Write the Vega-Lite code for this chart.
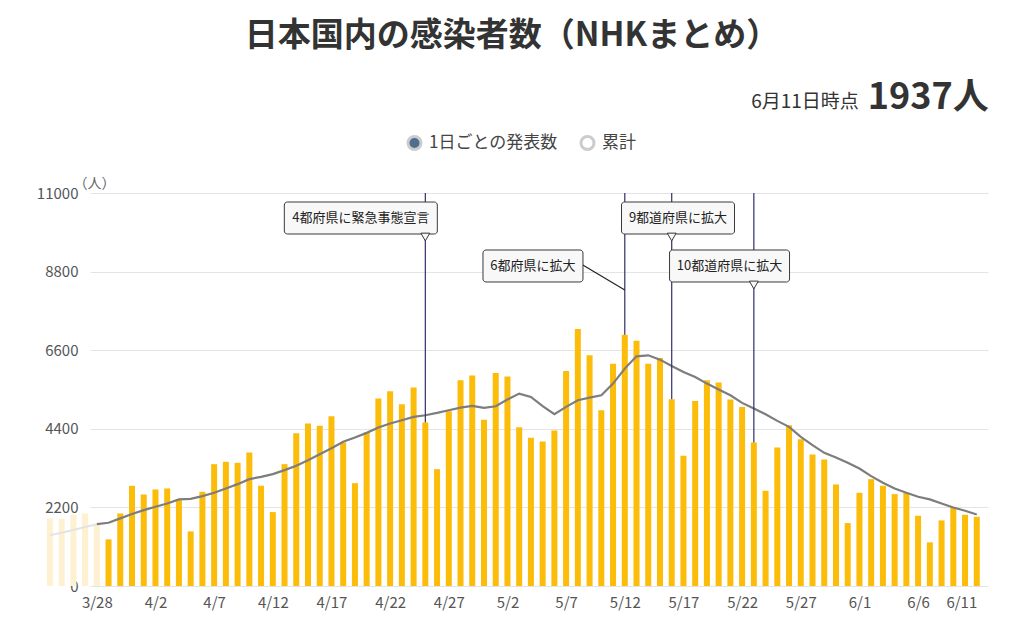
{
"$schema": "https://vega.github.io/schema/vega-lite/v6.json",
"width": 898,
"height": 393,
"autosize": {"type": "none"},
"padding": {"left": 90, "top": 193, "right": 36, "bottom": 40},
"background": "#ffffff",
"config": {"font": "Noto Sans CJK JP", "view": {"stroke": null}},
"title": {"text": "日本国内の感染者数（NHKまとめ）", "anchor": "middle", "dx": -27, "offset": 27, "fontSize": 33, "fontWeight": "bold", "color": "#333333", "font": "Noto Sans CJK JP"},
"datasets": {
"daily": [
{"date": "2020-03-24", "cases": 1890, "avg": 1420},
{"date": "2020-03-25", "cases": 1880, "avg": 1490},
{"date": "2020-03-26", "cases": 2000, "avg": 1570},
{"date": "2020-03-27", "cases": 2030, "avg": 1650},
{"date": "2020-03-28", "cases": 1710, "avg": 1730},
{"date": "2020-03-29", "cases": 1305, "avg": 1770},
{"date": "2020-03-30", "cases": 2031, "avg": 1892},
{"date": "2020-03-31", "cases": 2805, "avg": 2013},
{"date": "2020-04-01", "cases": 2562, "avg": 2124},
{"date": "2020-04-02", "cases": 2702, "avg": 2218},
{"date": "2020-04-03", "cases": 2730, "avg": 2311},
{"date": "2020-04-04", "cases": 2404, "avg": 2423},
{"date": "2020-04-05", "cases": 1528, "avg": 2441},
{"date": "2020-04-06", "cases": 2637, "avg": 2516},
{"date": "2020-04-07", "cases": 3410, "avg": 2609},
{"date": "2020-04-08", "cases": 3476, "avg": 2730},
{"date": "2020-04-09", "cases": 3448, "avg": 2851},
{"date": "2020-04-10", "cases": 3737, "avg": 2991},
{"date": "2020-04-11", "cases": 2805, "avg": 3056},
{"date": "2020-04-12", "cases": 2069, "avg": 3131},
{"date": "2020-04-13", "cases": 3410, "avg": 3243},
{"date": "2020-04-14", "cases": 4277, "avg": 3364},
{"date": "2020-04-15", "cases": 4547, "avg": 3522},
{"date": "2020-04-16", "cases": 4482, "avg": 3690},
{"date": "2020-04-17", "cases": 4752, "avg": 3858},
{"date": "2020-04-18", "cases": 4016, "avg": 4035},
{"date": "2020-04-19", "cases": 2879, "avg": 4156},
{"date": "2020-04-20", "cases": 4296, "avg": 4286},
{"date": "2020-04-21", "cases": 5246, "avg": 4435},
{"date": "2020-04-22", "cases": 5451, "avg": 4547},
{"date": "2020-04-23", "cases": 5088, "avg": 4640},
{"date": "2020-04-24", "cases": 5554, "avg": 4734},
{"date": "2020-04-25", "cases": 4575, "avg": 4780},
{"date": "2020-04-26", "cases": 3271, "avg": 4845},
{"date": "2020-04-27", "cases": 4892, "avg": 4920},
{"date": "2020-04-28", "cases": 5759, "avg": 4994},
{"date": "2020-04-29", "cases": 5889, "avg": 5041},
{"date": "2020-04-30", "cases": 4650, "avg": 4985},
{"date": "2020-05-01", "cases": 5964, "avg": 5032},
{"date": "2020-05-02", "cases": 5861, "avg": 5218},
{"date": "2020-05-03", "cases": 4445, "avg": 5386},
{"date": "2020-05-04", "cases": 4147, "avg": 5293},
{"date": "2020-05-05", "cases": 4044, "avg": 5032},
{"date": "2020-05-06", "cases": 4352, "avg": 4808},
{"date": "2020-05-07", "cases": 6019, "avg": 5013},
{"date": "2020-05-08", "cases": 7193, "avg": 5200},
{"date": "2020-05-09", "cases": 6457, "avg": 5274},
{"date": "2020-05-10", "cases": 4920, "avg": 5339},
{"date": "2020-05-11", "cases": 6224, "avg": 5665},
{"date": "2020-05-12", "cases": 7035, "avg": 6085},
{"date": "2020-05-13", "cases": 6867, "avg": 6429},
{"date": "2020-05-14", "cases": 6224, "avg": 6457},
{"date": "2020-05-15", "cases": 6383, "avg": 6336},
{"date": "2020-05-16", "cases": 5227, "avg": 6159},
{"date": "2020-05-17", "cases": 3643, "avg": 5992},
{"date": "2020-05-18", "cases": 5181, "avg": 5852},
{"date": "2020-05-19", "cases": 5759, "avg": 5665},
{"date": "2020-05-20", "cases": 5693, "avg": 5498},
{"date": "2020-05-21", "cases": 5218, "avg": 5339},
{"date": "2020-05-22", "cases": 5013, "avg": 5125},
{"date": "2020-05-23", "cases": 4016, "avg": 4966},
{"date": "2020-05-24", "cases": 2665, "avg": 4808},
{"date": "2020-05-25", "cases": 3876, "avg": 4622},
{"date": "2020-05-26", "cases": 4501, "avg": 4454},
{"date": "2020-05-27", "cases": 4109, "avg": 4174},
{"date": "2020-05-28", "cases": 3681, "avg": 3942},
{"date": "2020-05-29", "cases": 3541, "avg": 3727},
{"date": "2020-05-30", "cases": 2842, "avg": 3597},
{"date": "2020-05-31", "cases": 1761, "avg": 3448},
{"date": "2020-06-01", "cases": 2609, "avg": 3289},
{"date": "2020-06-02", "cases": 2991, "avg": 3075},
{"date": "2020-06-03", "cases": 2805, "avg": 2889},
{"date": "2020-06-04", "cases": 2572, "avg": 2730},
{"date": "2020-06-05", "cases": 2609, "avg": 2609},
{"date": "2020-06-06", "cases": 1966, "avg": 2497},
{"date": "2020-06-07", "cases": 1221, "avg": 2423},
{"date": "2020-06-08", "cases": 1836, "avg": 2311},
{"date": "2020-06-09", "cases": 2208, "avg": 2199},
{"date": "2020-06-10", "cases": 1994, "avg": 2106},
{"date": "2020-06-11", "cases": 1937, "avg": 2003}
],
"notes": [
{"date": "2020-04-25", "cases": 4575, "label": "4都府県に緊急事態宣言"},
{"date": "2020-05-12", "cases": 7035, "label": "6都府県に拡大"},
{"date": "2020-05-16", "cases": 5227, "label": "9都道府県に拡大"},
{"date": "2020-05-23", "cases": 4016, "label": "10都道府県に拡大"}
],
"summary": [
{"date": "2020-06-11", "asof": "6月11日時点", "total": "1937人"}
],
"legend": [
{"series": "1日ごとの発表数"},
{"series": "累計"}
]
},
"encoding": {
"x": {
"field": "date", "type": "temporal",
"scale": {"type": "utc", "domain": [
{"year": 2020, "month": 3, "date": 27, "hours": 20, "minutes": 18, "utc": true},
{"year": 2020, "month": 6, "date": 11, "hours": 12, "minutes": 45, "utc": true}]},
"axis": {
"title": null,
"values": [
{"year": 2020, "month": 3, "date": 28, "utc": true},
{"year": 2020, "month": 4, "date": 2, "utc": true},
{"year": 2020, "month": 4, "date": 7, "utc": true},
{"year": 2020, "month": 4, "date": 12, "utc": true},
{"year": 2020, "month": 4, "date": 17, "utc": true},
{"year": 2020, "month": 4, "date": 22, "utc": true},
{"year": 2020, "month": 4, "date": 27, "utc": true},
{"year": 2020, "month": 5, "date": 2, "utc": true},
{"year": 2020, "month": 5, "date": 7, "utc": true},
{"year": 2020, "month": 5, "date": 12, "utc": true},
{"year": 2020, "month": 5, "date": 17, "utc": true},
{"year": 2020, "month": 5, "date": 22, "utc": true},
{"year": 2020, "month": 5, "date": 27, "utc": true},
{"year": 2020, "month": 6, "date": 1, "utc": true},
{"year": 2020, "month": 6, "date": 6, "utc": true},
{"year": 2020, "month": 6, "date": 11, "utc": true}],
"format": "%-m/%-d",
"ticks": false, "domain": false, "grid": false,
"labelPadding": 9, "labelFontSize": 15, "labelColor": "#555555",
"labelOverlap": false, "labelBound": false, "labelFlush": false,
"labelAlign": {"condition": {"test": "utcmonth(datum.value) == 5 && utcdate(datum.value) == 11", "value": "right"}, "value": "center"}
}
}
},
"layer": [
{
"data": {"name": "daily"},
"transform": [{"filter": "time(datum.date) <= utc(2020, 2, 28)"}],
"mark": {"type": "bar", "size": 6, "color": "#fdf1d2"},
"encoding": {"y": {"field": "cases", "type": "quantitative", "scale": {"domain": [0, 11000]}}}
},
{
"data": {"name": "daily"},
"transform": [{"filter": "time(datum.date) > utc(2020, 2, 28)"}],
"mark": {"type": "bar", "size": 6, "color": "#FBBC0A"},
"encoding": {"y": {"field": "cases", "type": "quantitative", "scale": {"domain": [0, 11000]},
"axis": {"title": "（人）", "titleAngle": 0, "titleAlign": "left", "titleBaseline": "bottom", "titleX": -17, "titleY": -3, "titleFontSize": 14, "titleFontWeight": "normal", "titleColor": "#666666",
"values": [0, 2200, 4400, 6600, 8800, 11000], "format": "d", "ticks": false, "domain": false, "grid": true, "gridColor": "#e4e4e4",
"labelPadding": 12, "labelFontSize": 15, "labelColor": "#555555"}}}
},
{
"data": {"name": "daily"},
"transform": [{"filter": "time(datum.date) <= utc(2020, 2, 28)"}],
"mark": {"type": "line", "color": "#e4e4e4", "strokeWidth": 2},
"encoding": {"y": {"field": "avg", "type": "quantitative"}}
},
{
"data": {"name": "daily"},
"transform": [{"filter": "time(datum.date) >= utc(2020, 2, 28)"}],
"mark": {"type": "line", "color": "#7d7d7d", "strokeWidth": 2.2},
"encoding": {"y": {"field": "avg", "type": "quantitative"}}
},
{
"data": {"name": "notes"},
"mark": {"type": "rule", "color": "#2f2f6b", "strokeWidth": 1.2},
"encoding": {"y": {"field": "cases", "type": "quantitative"}, "y2": {"datum": 11000}}
},
{
"data": {"name": "notes"},
"transform": [{"filter": "datum.label == '6都府県に拡大'"}],
"mark": {"type": "rule", "color": "#222222", "strokeWidth": 1.2, "xOffset": -42},
"encoding": {"x2": {"field": "date"}, "y": {"datum": 8985}, "y2": {"datum": 8285}}
},
{
"data": {"name": "notes"},
"transform": [{"filter": "datum.label == '4都府県に緊急事態宣言'"}],
"layer": [
{"mark": {"type": "bar", "width": 153, "xOffset": -64.5, "fill": "#f8f8f8", "stroke": "#3a3a3a", "strokeWidth": 1, "cornerRadius": 3}, "encoding": {"y": {"datum": 10748}, "y2": {"datum": 9852}}},
{"mark": {"type": "point", "shape": "triangle-down", "size": 80, "filled": true, "fill": "#f8f8f8", "stroke": "#3a3a3a", "strokeWidth": 1, "opacity": 1}, "encoding": {"y": {"datum": 9768}}},
{"mark": {"type": "text", "dx": -64.5, "fontSize": 13, "color": "#222222", "baseline": "middle"}, "encoding": {"y": {"datum": 10300}, "text": {"field": "label"}}}
]
},
{
"data": {"name": "notes"},
"transform": [{"filter": "datum.label == '6都府県に拡大'"}],
"layer": [
{"mark": {"type": "bar", "width": 100, "xOffset": -91.8, "fill": "#f8f8f8", "stroke": "#3a3a3a", "strokeWidth": 1, "cornerRadius": 3}, "encoding": {"y": {"datum": 9405}, "y2": {"datum": 8509}}},
{"mark": {"type": "text", "dx": -91.8, "fontSize": 13, "color": "#222222", "baseline": "middle"}, "encoding": {"y": {"datum": 8957}, "text": {"field": "label"}}}
]
},
{
"data": {"name": "notes"},
"transform": [{"filter": "datum.label == '9都道府県に拡大'"}],
"layer": [
{"mark": {"type": "bar", "width": 113, "xOffset": 6.3, "fill": "#f8f8f8", "stroke": "#3a3a3a", "strokeWidth": 1, "cornerRadius": 3}, "encoding": {"y": {"datum": 10748}, "y2": {"datum": 9852}}},
{"mark": {"type": "point", "shape": "triangle-down", "size": 80, "filled": true, "fill": "#f8f8f8", "stroke": "#3a3a3a", "strokeWidth": 1, "opacity": 1}, "encoding": {"y": {"datum": 9768}}},
{"mark": {"type": "text", "dx": 6.3, "fontSize": 13, "color": "#222222", "baseline": "middle"}, "encoding": {"y": {"datum": 10300}, "text": {"field": "label"}}}
]
},
{
"data": {"name": "notes"},
"transform": [{"filter": "datum.label == '10都道府県に拡大'"}],
"layer": [
{"mark": {"type": "bar", "width": 120, "xOffset": -24.3, "fill": "#f8f8f8", "stroke": "#3a3a3a", "strokeWidth": 1, "cornerRadius": 3}, "encoding": {"y": {"datum": 9405}, "y2": {"datum": 8509}}},
{"mark": {"type": "point", "shape": "triangle-down", "size": 80, "filled": true, "fill": "#f8f8f8", "stroke": "#3a3a3a", "strokeWidth": 1, "opacity": 1}, "encoding": {"y": {"datum": 8425}}},
{"mark": {"type": "text", "dx": -24.3, "fontSize": 13, "color": "#222222", "baseline": "middle"}, "encoding": {"y": {"datum": 8957}, "text": {"field": "label"}}}
]
},
{
"data": {"name": "summary"},
"mark": {"type": "text", "align": "right", "baseline": "alphabetic", "dx": -118, "dy": -85, "fontSize": 19, "color": "#333333"},
"encoding": {"y": {"datum": 11000}, "text": {"field": "asof"}}
},
{
"data": {"name": "summary"},
"mark": {"type": "text", "align": "right", "baseline": "alphabetic", "dx": 12, "dy": -84, "fontSize": 36, "fontWeight": "bold", "color": "#333333"},
"encoding": {"y": {"datum": 11000}, "text": {"field": "total"}}
},
{
"data": {"name": "legend"},
"mark": {"type": "point", "filled": true, "opacity": 0},
"encoding": {
"x": {"value": 0}, "y": {"value": 0},
"fill": {"field": "series", "type": "nominal",
"scale": {"domain": ["1日ごとの発表数", "累計"], "range": ["#4f6f8f", "#ffffff"]},
"legend": {"orient": "none", "legendX": 316, "legendY": -59, "direction": "horizontal", "title": null,
"labelFontSize": 17, "labelColor": "#444444", "symbolType": "circle", "symbolSize": 170,
"symbolStrokeColor": "#cccccc", "symbolStrokeWidth": 3, "columnPadding": 16, "labelOffset": 6}}
}
}
]
}
